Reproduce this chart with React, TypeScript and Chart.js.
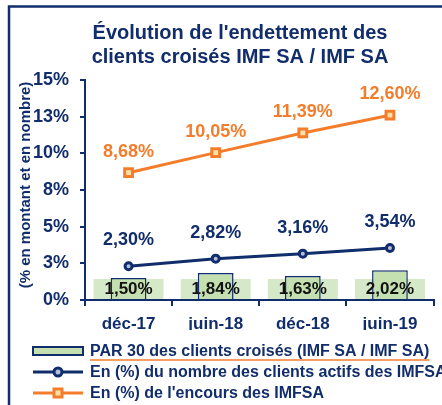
import React, { useEffect, useRef } from 'react';
import { Chart, registerables } from 'chart.js';

Chart.register(...registerables);

const categories = ['déc-17', 'juin-18', 'déc-18', 'juin-19'];
const par30 = [1.5, 1.84, 1.63, 2.02];
const clientsActifs = [2.3, 2.82, 3.16, 3.54];
const encours = [8.68, 10.05, 11.39, 12.6];
const yTickValues = [0, 2.5, 5, 7.5, 10, 12.5, 15];
const titleLines = ["Évolution de l'endettement des", 'clients croisés IMF SA / IMF SA'];
const yAxisTitle = '(% en montant et en nombre)';
const seriesLabels = [
  'PAR 30 des clients croisés (IMF SA / IMF SA)',
  'En (%) du nombre des clients actifs des IMFSA',
  "En (%) de l'encours des IMFSA",
];

const NAVY = '#112d6b';
const ORANGE = '#f47d2c';
const GREEN = '#c4dfb0';
const GREEN_BOX = '#d5e8c8';
const FONT = '"Liberation Sans", Arial, Helvetica, sans-serif';

const fmt = (v: number) => v.toFixed(2).replace('.', ',') + '%';

const overlay = {
  id: 'overlay',
  beforeDraw(chart: any) {
    const ctx = chart.ctx;
    ctx.save();
    ctx.strokeStyle = NAVY;
    ctx.lineWidth = 2.5;
    ctx.strokeRect(9, 6.5, 600, 600);
    ctx.fillStyle = NAVY;
    ctx.font = `bold 20px ${FONT}`;
    ctx.textAlign = 'center';
    ctx.textBaseline = 'alphabetic';
    ctx.fillText(titleLines[0], 240, 39);
    ctx.fillText(titleLines[1], 240, 63);
    // y axis title
    ctx.save();
    ctx.translate(26, 185);
    ctx.rotate(-Math.PI / 2);
    ctx.font = `bold 15px ${FONT}`;
    ctx.textBaseline = 'middle';
    ctx.fillText(yAxisTitle, 0, 0);
    ctx.restore();
    ctx.restore();
  },
  beforeDatasetsDraw(chart: any) {
    const ctx = chart.ctx;
    const meta = chart.getDatasetMeta(0);
    const bottom = chart.chartArea.bottom;
    ctx.save();
    ctx.fillStyle = GREEN_BOX;
    meta.data.forEach((el: any) => {
      ctx.fillRect(el.x - 35, bottom - 21, 70, 20);
    });
    ctx.restore();
  },
  afterDatasetsDraw(chart: any) {
    const ctx = chart.ctx;
    const bottom = chart.chartArea.bottom;
    ctx.save();
    ctx.textAlign = 'center';
    ctx.textBaseline = 'middle';
    ctx.font = `bold 17px ${FONT}`;
    ctx.fillStyle = '#111111';
    chart.getDatasetMeta(0).data.forEach((el: any, i: number) => {
      ctx.fillText(fmt(par30[i]), el.x, bottom - 11);
    });
    ctx.font = `bold 18px ${FONT}`;
    ctx.fillStyle = NAVY;
    chart.getDatasetMeta(1).data.forEach((el: any, i: number) => {
      ctx.fillText(fmt(clientsActifs[i]), el.x, el.y - 26);
    });
    ctx.fillStyle = ORANGE;
    chart.getDatasetMeta(2).data.forEach((el: any, i: number) => {
      ctx.fillText(fmt(encours[i]), el.x, el.y - 21);
    });
    ctx.restore();
  },
  afterDraw(chart: any) {
    const ctx = chart.ctx;
    ctx.save();
    const x0 = 33;
    const x1 = 83;
    const tx = 90;
    const ys = [351, 372, 393];
    ctx.fillStyle = GREEN;
    ctx.fillRect(x0, ys[0] - 4, x1 - x0, 8);
    ctx.strokeStyle = NAVY;
    ctx.lineWidth = 2;
    ctx.strokeRect(x0, ys[0] - 4, x1 - x0, 8);
    ctx.strokeStyle = NAVY;
    ctx.lineWidth = 3;
    ctx.beginPath();
    ctx.moveTo(x0, ys[1]);
    ctx.lineTo(x1, ys[1]);
    ctx.stroke();
    ctx.beginPath();
    ctx.arc((x0 + x1) / 2, ys[1], 4, 0, Math.PI * 2);
    ctx.fillStyle = '#b4c0da';
    ctx.fill();
    ctx.stroke();
    ctx.strokeStyle = ORANGE;
    ctx.beginPath();
    ctx.moveTo(x0, ys[2]);
    ctx.lineTo(x1, ys[2]);
    ctx.stroke();
    ctx.fillStyle = '#fde0a8';
    ctx.beginPath();
    ctx.rect((x0 + x1) / 2 - 4, ys[2] - 4, 8, 8);
    ctx.fill();
    ctx.stroke();
    ctx.font = `bold 16px ${FONT}`;
    ctx.fillStyle = NAVY;
    ctx.textAlign = 'left';
    ctx.textBaseline = 'middle';
    seriesLabels.forEach((t, i) => ctx.fillText(t, tx, ys[i] + 1));
    const w = ctx.measureText(seriesLabels[0]).width;
    ctx.lineWidth = 1.5;
    ctx.beginPath();
    ctx.moveTo(tx, ys[0] + 9);
    ctx.lineTo(tx + w, ys[0] + 9);
    ctx.stroke();
    ctx.restore();
  },
};

export default function App() {
  const ref = useRef<HTMLCanvasElement>(null);
  useEffect(() => {
    if (!ref.current) return;
    const chart = new Chart(ref.current, {
      type: 'bar',
      data: {
        labels: categories,
        datasets: [
          {
            type: 'bar',
            label: seriesLabels[0],
            data: par30,
            backgroundColor: GREEN,
            borderColor: NAVY,
            borderWidth: 1.5,
            barPercentage: 0.41,
            categoryPercentage: 1,
            order: 3,
          } as any,
          {
            type: 'line',
            label: seriesLabels[1],
            data: clientsActifs,
            borderColor: NAVY,
            borderWidth: 3,
            pointStyle: 'circle',
            pointRadius: 3.5,
            pointBorderWidth: 3,
            pointBackgroundColor: '#b4c0da',
            pointBorderColor: NAVY,
            order: 1,
          },
          {
            type: 'line',
            label: seriesLabels[2],
            data: encours,
            borderColor: ORANGE,
            borderWidth: 3,
            pointStyle: 'rect',
            pointRadius: 5.5,
            pointBorderWidth: 3,
            pointBackgroundColor: '#fde0a8',
            pointBorderColor: ORANGE,
            order: 2,
          },
        ],
      },
      options: {
        responsive: false,
        animation: false,
        layout: { padding: { left: 0, top: 80, right: 8, bottom: 75 } },
        plugins: {
          legend: { display: false },
          title: { display: false },
          tooltip: { enabled: false },
        },
        scales: {
          x: {
            afterFit: (s: any) => {
              s.height = 30;
            },
            grid: { offset: true, drawOnChartArea: false, tickLength: 6, color: NAVY, lineWidth: 2 },
            border: { color: NAVY, width: 2 },
            ticks: { color: NAVY, font: { family: FONT, size: 17, weight: 'bold' }, padding: 8 },
          },
          y: {
            min: 0,
            max: 15,
            afterFit: (s: any) => {
              s.width = 85;
            },
            afterBuildTicks: (s: any) => {
              s.ticks = yTickValues.map((v) => ({ value: v }));
            },
            grid: { drawOnChartArea: false, tickLength: 5, color: NAVY, lineWidth: 2 },
            border: { color: NAVY, width: 2 },
            ticks: {
              color: NAVY,
              font: { family: FONT, size: 18, weight: 'bold' },
              padding: 11,
              callback: (v: any) => Math.round(Number(v)) + '%',
            },
          },
        },
      },
      plugins: [overlay],
    });
    return () => chart.destroy();
  }, []);
  return (
    <div style={{ position: 'absolute', left: 0, top: 0, width: 442, height: 405, overflow: 'hidden', background: '#fff' }}>
      <canvas ref={ref} width={442} height={405} style={{ width: 442, height: 405, display: 'block' }} />
    </div>
  );
}
